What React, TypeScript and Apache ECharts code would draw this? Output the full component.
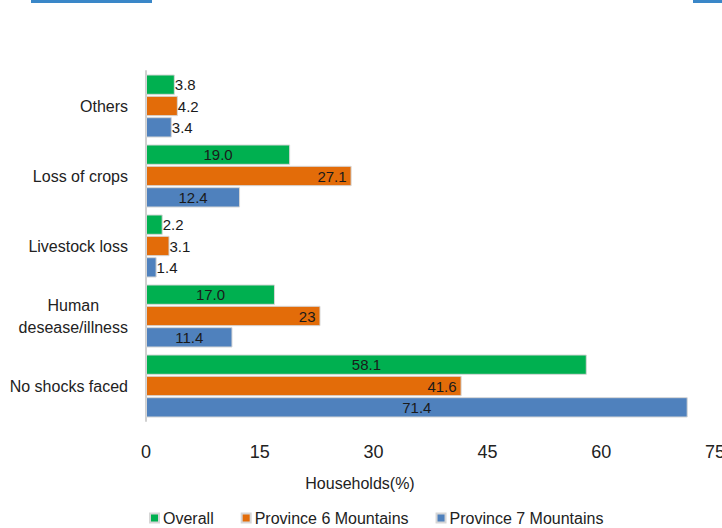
import React, { useEffect, useRef } from "react";
import * as echarts from "echarts";

const categories = ["Others", "Loss of crops", "Livestock loss", "Human\ndesease/illness", "No shocks faced"];
const seriesNames = ["Overall", "Province 6 Mountains", "Province 7 Mountains"];
const overall = [3.8, 19.0, 2.2, 17.0, 58.1];
const province6 = [4.2, 27.1, 3.1, 23, 41.6];
const province7 = [3.4, 12.4, 1.4, 11.4, 71.4];
const overallLabels = ["3.8", "19.0", "2.2", "17.0", "58.1"];
const province6Labels = ["4.2", "27.1", "3.1", "23", "41.6"];
const province7Labels = ["3.4", "12.4", "1.4", "11.4", "71.4"];
const xTicks = [0, 15, 30, 45, 60, 75];
const xAxisTitle = "Households(%)";

const colors = ["#00b050", "#e36c09", "#4f81bd"];
const FONT = "'Liberation Sans', Arial, sans-serif";

export default function App() {
  const ref = useRef<HTMLDivElement>(null);
  useEffect(() => {
    if (!ref.current) return;
    const chart = echarts.init(ref.current, null, { renderer: "svg" });
    const mk = (vals: number[], labels: string[], inner: string) =>
      vals.map((v, i) => ({
        value: v,
        label: {
          position: v < 5 ? "right" : inner,
          distance: v < 5 ? 0 : 5,
          formatter: labels[i],
        },
      }));
    const all = [
      mk(overall, overallLabels, "inside"),
      mk(province6, province6Labels, "insideRight"),
      mk(province7, province7Labels, "inside"),
    ];
    chart.setOption({
      animation: false,
      textStyle: { fontFamily: FONT },
      graphic: [
        { type: "rect", shape: { x: 31, y: 0, width: 121, height: 3 }, style: { fill: "#3a87c8" } },
        { type: "rect", shape: { x: 693, y: 0, width: 29, height: 3 }, style: { fill: "#3a87c8" } },
        {
          type: "text",
          x: 360,
          y: 483,
          style: {
            text: xAxisTitle,
            fontFamily: FONT,
            fontSize: 16,
            fill: "#222",
            align: "center",
            verticalAlign: "middle",
          },
        },
      ],
      grid: { left: 146, right: 7, top: 71, bottom: 107, outerBoundsMode: "none", containLabel: false },
      legend: {
        bottom: -3,
        left: 144,
        data: seriesNames,
        icon: "rect",
        itemWidth: 9,
        itemHeight: 9,
        itemGap: 27,
        textStyle: { fontFamily: FONT, fontSize: 16, color: "#222", padding: [0, 0, 0, -1] },
      },
      xAxis: {
        type: "value",
        min: 0,
        max: 75,
        interval: 15,
        axisLine: { show: false },
        axisTick: { show: false },
        splitLine: { show: false },
        axisLabel: {
          fontFamily: FONT,
          fontSize: 18,
          color: "#222",
          margin: 22,
          formatter: (v: number) => (xTicks.includes(v) ? String(v) : ""),
        },
      },
      yAxis: {
        type: "category",
        data: categories,
        inverse: true,
        axisLine: { show: true, lineStyle: { color: "#d0d0d0", width: 2 } },
        axisTick: { show: false },
        axisLabel: {
          fontFamily: FONT,
          fontSize: 16,
          color: "#222",
          margin: 18,
          align: "right",
          formatter: (v: string) =>
            v
              .split("\n")
              .map((s) => "{c|" + s + "}")
              .join("\n"),
          rich: {
            c: { align: "center", fontFamily: FONT, fontSize: 16, color: "#222", lineHeight: 22 },
          },
        },
      },
      series: seriesNames.map((n, si) => ({
        name: n,
        type: "bar",
        data: all[si],
        itemStyle: { color: colors[si], borderColor: "#d6d6d6", borderWidth: 1 },
        barGap: "5%",
        barCategoryGap: "10%",
        label: {
          show: true,
          fontFamily: FONT,
          fontSize: 15,
          color: "#1a1a1a",
        },
      })),
    });
    return () => chart.dispose();
  }, []);
  return <div ref={ref} style={{ width: 722, height: 528, position: "absolute", left: 0, top: 0 }} />;
}
